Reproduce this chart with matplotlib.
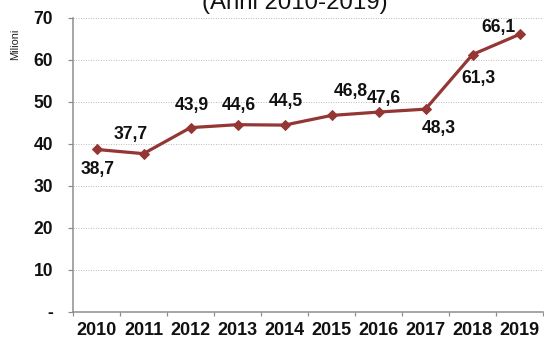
import matplotlib
matplotlib.use("Agg")
import matplotlib.pyplot as plt
from matplotlib.ticker import FixedLocator

plt.rcParams['font.family'] = ['Liberation Sans', 'DejaVu Sans']

years = ["2010", "2011", "2012", "2013", "2014", "2015", "2016", "2017", "2018", "2019"]
values = [38.7, 37.7, 43.9, 44.6, 44.5, 46.8, 47.6, 48.3, 61.3, 66.1]
value_labels = ["38,7", "37,7", "43,9", "44,6", "44,5", "46,8", "47,6", "48,3", "61,3", "66,1"]
y_ticks = [0, 10, 20, 30, 40, 50, 60, 70]
y_tick_labels = ["-", "10", "20", "30", "40", "50", "60", "70"]
# label placement relative to each point (points)
label_offsets = [(1, -20), (-13, 19), (1, 22), (1, 19), (1, 24), (19, 24),
                 (5, 14), (13, -19), (6, -24), (-21, 7)]

LINE = "#943634"
AXIS = "#8C8C8C"

fig = plt.figure(figsize=(544 / 72, 340 / 72), dpi=72)
ax = fig.add_axes([73 / 544, 28 / 340, 470 / 544, 294 / 340])

x = list(range(len(years)))
ax.plot(x, values, color=LINE, lw=3.2, marker="D", ms=7.5, mec=LINE, mfc=LINE,
        zorder=3, clip_on=False)

for xi, v, lab, off in zip(x, values, value_labels, label_offsets):
    ax.annotate(lab, (xi, v), xytext=off, textcoords="offset points",
                ha="center", va="center", fontsize=17.5, fontweight="bold",
                color="#111111", zorder=4)

ax.set_xlim(-0.5, len(years) - 0.5)
ax.set_ylim(0, 70)

ax.set_xticks(x)
ax.set_xticklabels(years, fontsize=18, fontweight="bold", color="#111111")
ax.xaxis.set_minor_locator(FixedLocator([i - 0.5 for i in range(len(years) + 1)]))
ax.tick_params(axis="x", which="major", length=0, pad=10)
ax.tick_params(axis="x", which="minor", length=4, width=1.2, color=AXIS)

ax.set_yticks(y_ticks)
ax.set_yticklabels(y_tick_labels, fontsize=17.5, fontweight="bold", color="#111111")
ax.tick_params(axis="y", length=5, width=1.2, color=AXIS, pad=15)

ax.grid(axis="y", linestyle=(0, (1, 1.5)), color="#BFBFBF", lw=1)
ax.set_axisbelow(True)

for side in ("top", "right"):
    ax.spines[side].set_visible(False)
for side in ("left", "bottom"):
    ax.spines[side].set_color(AXIS)
    ax.spines[side].set_linewidth(1.5)

fig.text(15 / 544, 1 - 44 / 340, "Milioni", rotation=90, fontsize=11,
         ha="center", va="center", color="#222222")
fig.text(295 / 544, 1 - 9 / 340, "(Anni 2010-2019)", fontsize=24,
         ha="center", va="baseline", color="#111111")

fig.savefig("out.png", dpi=72)
